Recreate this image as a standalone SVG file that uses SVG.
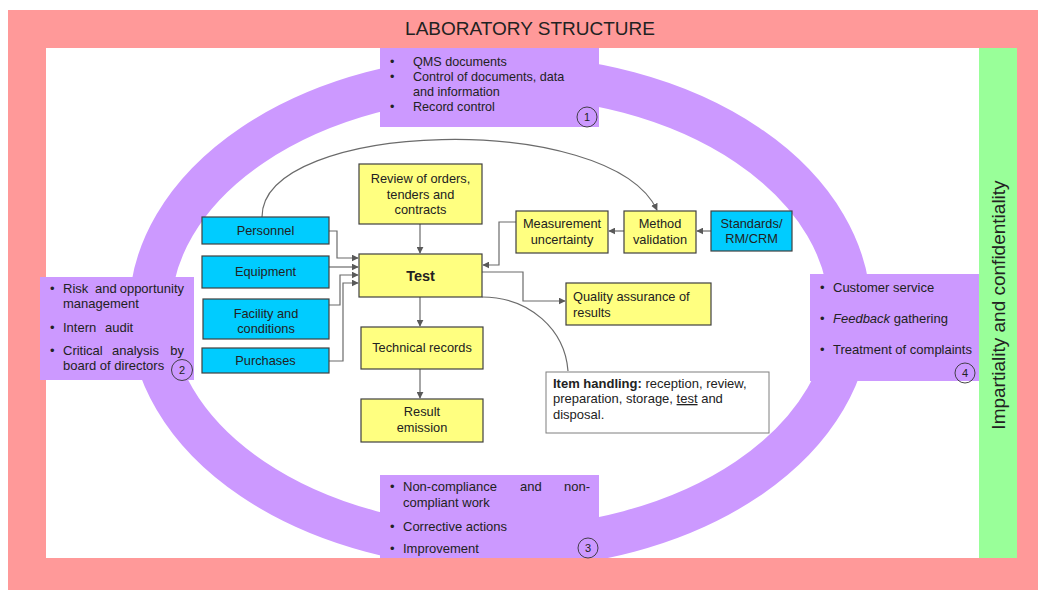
<svg xmlns="http://www.w3.org/2000/svg" width="1042" height="590" viewBox="0 0 1042 590">
<style>
text{font-family:"Liberation Sans",Arial,sans-serif;font-size:12.8px;fill:#222}
.s{font-size:12.6px}
.t{font-size:13px}
.y{fill:#FFFF80;stroke:#404040;stroke-width:1.2}
.c{fill:#00CCFF;stroke:#404040;stroke-width:1.2}
.p{fill:#CC99FF}
.n{fill:none;stroke:#333;stroke-width:0.9}
.m{text-anchor:middle}
.e{text-anchor:end}
.num{font-size:11px;text-anchor:middle}
.con{fill:none;stroke:#6b6b6b;stroke-width:1.2}
.b{font-weight:bold}
</style>
<defs>
<marker id="ah" viewBox="0 0 10 10" refX="9" refY="5" markerWidth="7" markerHeight="7" orient="auto" markerUnits="userSpaceOnUse">
<path d="M0,0 L10,5 L0,10 z" fill="#595959"/>
</marker>
<clipPath id="inner"><rect x="46" y="48" width="933" height="510"/></clipPath>
</defs>
<g id="frame">
<rect x="8" y="10" width="1030" height="580" fill="#FF9999"/>
<rect x="46" y="48" width="933" height="510" fill="#FFFFFF"/>
<rect x="979" y="48" width="38" height="510" fill="#99FF99"/>
<text class="m" x="530" y="35" style="font-size:19px">LABORATORY STRUCTURE</text>
<text transform="translate(1005,305) rotate(-90)" class="m" style="font-size:19px">Impartiality and confidentiality</text>
</g>
<g id="ring" clip-path="url(#inner)">
<ellipse cx="500" cy="312" rx="350" ry="236" fill="none" stroke="#CC99FF" stroke-width="42"/>
</g>
<g id="connectors">
<path class="con" d="M262,217 C262,120 610,110 657,210" marker-end="url(#ah)"/>
<path class="con" d="M482,297 C530,297 565,330 568,371"/>
<path class="con" d="M329,231 H337 V258 H358" marker-end="url(#ah)"/>
<path class="con" d="M329,267 H358" marker-end="url(#ah)"/>
<path class="con" d="M329,305 H340 V275 H358" marker-end="url(#ah)"/>
<path class="con" d="M329,361 H343 V283 H358" marker-end="url(#ah)"/>
<path class="con" d="M420,224 V253" marker-end="url(#ah)"/>
<path class="con" d="M420,297 V326" marker-end="url(#ah)"/>
<path class="con" d="M420,369 V398" marker-end="url(#ah)"/>
<path class="con" d="M711,231 H697" marker-end="url(#ah)"/>
<path class="con" d="M624,231 H609" marker-end="url(#ah)"/>
<path class="con" d="M516,222 H499 V265 H483" marker-end="url(#ah)"/>
<path class="con" d="M482,272 H523 V301 H565" marker-end="url(#ah)"/>
</g>
<g id="box1">
<rect class="p" x="380" y="48" width="219" height="79"/>
<text class="s" x="390" y="66">•</text><text class="s" x="413" y="66">QMS documents</text>
<text class="s" x="390" y="81">•</text><text class="s" x="413" y="81">Control of documents, data</text>
<text class="s" x="413" y="96">and information</text>
<text class="s" x="390" y="111">•</text><text class="s" x="413" y="111">Record control</text>
<circle class="n" cx="587" cy="117" r="10"/><text class="num" x="587" y="121">1</text>
</g>
<g id="box2">
<rect class="p" x="40" y="277" width="154" height="103"/>
<text class="t" x="50" y="292.5">•</text><text class="t" y="292.5"><tspan x="63">Risk</tspan><tspan x="95">and</tspan></text><text class="t e" x="184" y="292.5">opportunity</text>
<text class="t" x="63" y="307.5">management</text>
<text class="t" x="50" y="331.5">•</text><text class="t" y="331.5"><tspan x="63">Intern</tspan><tspan x="105">audit</tspan></text>
<text class="t" x="50" y="354.5">•</text><text class="t" y="354.5"><tspan x="63">Critical</tspan><tspan x="112">analysis</tspan></text><text class="t e" x="184" y="354.5">by</text>
<text class="t" x="63" y="370">board of directors</text>
<circle class="n" cx="182" cy="370" r="10.5"/><text class="num" x="182" y="374">2</text>
</g>
<g id="box3">
<rect class="p" x="380" y="475" width="219" height="83"/>
<text class="t" x="390" y="491">•</text><text class="t" y="491"><tspan x="403">Non-compliance</tspan><tspan x="520">and</tspan></text><text class="t e" x="590" y="491">non-</text>
<text class="t" x="403" y="507">compliant work</text>
<text class="t" x="390" y="531">•</text><text class="t" x="403" y="531">Corrective actions</text>
<text class="t" x="390" y="553">•</text><text class="t" x="403" y="553">Improvement</text>
<circle class="n" cx="588" cy="548" r="10"/><text class="num" x="588" y="552">3</text>
</g>
<g id="box4">
<rect class="p" x="810" y="274" width="169" height="107"/>
<text class="t" x="820" y="292">•</text><text class="t" x="833" y="292">Customer service</text>
<text class="t" x="820" y="323">•</text><text class="t" x="833" y="323"><tspan font-style="italic">Feedback</tspan> gathering</text>
<text class="t" x="820" y="354">•</text><text class="t" x="833" y="354">Treatment of complaints</text>
<circle class="n" cx="965" cy="373" r="10"/><text class="num" x="965" y="377">4</text>
</g>
<g id="personnel"><rect class="c" x="202" y="217" width="127" height="27"/><text class="m" x="265.5" y="235">Personnel</text></g>
<g id="equipment"><rect class="c" x="202" y="256" width="127" height="32"/><text class="m" x="265.5" y="276">Equipment</text></g>
<g id="facility"><rect class="c" x="203" y="299" width="126" height="40"/><text class="m" x="266" y="317.5">Facility and</text><text class="m" x="266" y="332.5">conditions</text></g>
<g id="purchases"><rect class="c" x="202" y="348" width="127" height="25"/><text class="m" x="265.5" y="365">Purchases</text></g>
<g id="review"><rect class="y" x="359" y="164" width="123" height="60"/><text class="m" x="420.5" y="183">Review of orders,</text><text class="m" x="420.5" y="199">tenders and</text><text class="m" x="420.5" y="214">contracts</text></g>
<g id="test"><rect class="y" x="359" y="254" width="123" height="43"/><text class="m b" x="420.5" y="280.5" style="font-size:14.5px">Test</text></g>
<g id="measurement"><rect class="y" x="516" y="211" width="92" height="42"/><text class="m" x="562" y="228">Measurement</text><text class="m" x="562" y="244">uncertainty</text></g>
<g id="method"><rect class="y" x="624" y="211" width="72" height="42"/><text class="m" x="660" y="228">Method</text><text class="m" x="660" y="244">validation</text></g>
<g id="standards"><rect class="c" x="711" y="211" width="81" height="40"/><text class="m" x="751.5" y="227.5">Standards/</text><text class="m" x="751.5" y="242.5">RM/CRM</text></g>
<g id="quality"><rect class="y" x="566" y="283" width="145" height="42"/><text x="573" y="301">Quality assurance of</text><text x="573" y="317">results</text></g>
<g id="technical"><rect class="y" x="361" y="327" width="122" height="42"/><text class="m" x="422" y="352">Technical records</text></g>
<g id="result"><rect class="y" x="361" y="399" width="122" height="43"/><text class="m" x="422" y="416">Result</text><text class="m" x="422" y="432">emission</text></g>
<g id="item"><rect x="546" y="372" width="223" height="61" fill="#FFFFFF" stroke="#7f7f7f" stroke-width="1"/>
<text x="553" y="387.5" style="font-size:13px"><tspan class="b">Item handling:</tspan> reception, review,</text>
<text x="553" y="403" style="font-size:13px">preparation, storage, <tspan text-decoration="underline">test</tspan> and</text>
<text x="553" y="418.5" style="font-size:13px">disposal.</text></g>
</svg>
